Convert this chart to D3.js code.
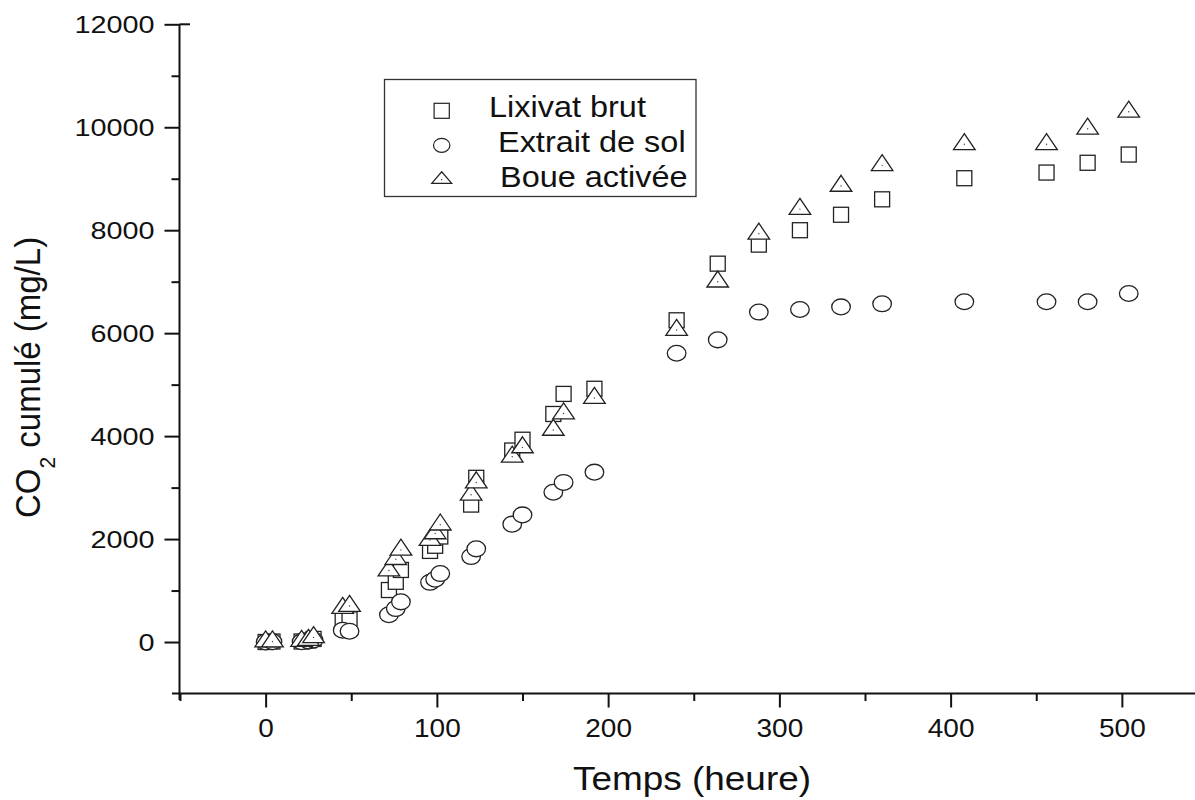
<!DOCTYPE html>
<html>
<head>
<meta charset="utf-8">
<script src="https://cdn.jsdelivr.net/npm/d3@7/dist/d3.min.js"></script>
<style>
	html, body { margin: 0; padding: 0; background: #fff; }
	#outer { width: 1195px; height: 800px; }
</style>
</head>
<body>
<div id="outer"></div>
<script>

////////// DATA //////////
const hours = [0, 4, 21, 25, 28, 45, 49, 72, 76, 79, 96, 99, 102, 120, 123, 144, 150, 168, 174, 192, 240, 264, 288, 312, 336, 360, 408, 456, 480, 504];
const lixivatBrut = [0, 10, 10, 30, 60, 420, 440, 1010, 1170, 1400, 1770, 1870, 2050, 2670, 3190, 3720, 3930, 4430, 4820, 4920, 6250, 7350, 7720, 8000, 8300, 8600, 9010, 9120, 9310, 9470];
const extraitDeSol = [0, 5, 5, 20, 40, 230, 210, 530, 650, 780, 1160, 1220, 1330, 1660, 1810, 2290, 2470, 2910, 3100, 3300, 5610, 5870, 6410, 6460, 6510, 6570, 6610, 6610, 6610, 6770];
const boueActivee = [10, 10, 20, 40, 90, 660, 700, 1390, 1610, 1790, 1980, 2110, 2280, 2860, 3100, 3600, 3780, 4120, 4440, 4740, 6060, 7000, 7930, 8410, 8860, 9260, 9670, 9670, 9970, 10300];
const seriesNames = ['Lixivat brut', 'Extrait de sol', 'Boue activée'];
const xTicks = [0, 100, 200, 300, 400, 500];
const xMinorTicks = [-50, 50, 150, 250, 350, 450];
const yTicks = [0, 2000, 4000, 6000, 8000, 10000, 12000];
const yMinorTicks = [1000, 3000, 5000, 7000, 9000, 11000];

function drawChart() {

	// ********************************* DEFINE ********************************* //
	const width = 1195, height = 800;
	const font = '"Liberation Sans", Arial, Helvetica, sans-serif';
	const ink = '#111';
	const markStroke = '#222';
	const axisWeight = 2;

	const x = d3.scaleLinear().domain([-50, 550]).range([180, 1207.5]);
	const y = d3.scaleLinear().domain([-1000, 12000]).range([693.5, 24.3]);
	const axisX = 179.5, axisY = 693.5;

	const svg = d3.select('#outer').append('svg')
		.attr('width', width)
		.attr('height', height)
		.style('display', 'block')
		.style('font-family', font);

	// ********************************* AXES ********************************* //
	const xAxisG = svg.append('g').attr('transform', `translate(0, ${axisY})`);
	xAxisG.call(d3.axisBottom(x).tickValues(xTicks).tickFormat(d3.format('d')).tickSize(14).tickPadding(11.7).tickSizeOuter(0));
	xAxisG.append('g').call(d3.axisBottom(x).tickValues(xMinorTicks).tickSize(7.5).tickFormat('').tickSizeOuter(0));
	xAxisG.selectAll('.domain').remove();
	xAxisG.selectAll('line').attr('stroke', ink).attr('stroke-width', axisWeight);
	xAxisG.selectAll('text')
		.attr('fill', ink)
		.style('font-size', '25px')
		.style('font-family', font)
		.attr('transform', 'scale(1.12,1)');

	const yAxisG = svg.append('g').attr('transform', `translate(${axisX}, 0)`);
	yAxisG.call(d3.axisLeft(y).tickValues(yTicks).tickFormat(d3.format('d')).tickSize(15).tickPadding(10).tickSizeOuter(0));
	yAxisG.append('g').call(d3.axisLeft(y).tickValues(yMinorTicks).tickSize(8).tickFormat('').tickSizeOuter(0));
	yAxisG.selectAll('.domain').remove();
	yAxisG.selectAll('line').attr('stroke', ink).attr('stroke-width', axisWeight);
	yAxisG.selectAll('text')
		.attr('fill', ink)
		.style('font-size', '24px')
		.style('font-family', font)
		.attr('x', -25 / 1.2)
		.attr('dy', '0.36em')
		.attr('transform', 'scale(1.2,1)');

	// axis lines, crossing a little like the original
	svg.append('line')
		.attr('x1', 172).attr('x2', width)
		.attr('y1', axisY).attr('y2', axisY)
		.attr('stroke', ink).attr('stroke-width', axisWeight);
	svg.append('line')
		.attr('x1', axisX).attr('x2', axisX)
		.attr('y1', y(12000)).attr('y2', 700)
		.attr('stroke', ink).attr('stroke-width', axisWeight);
	svg.append('line')
		.attr('x1', axisX).attr('x2', 190)
		.attr('y1', y(12000)).attr('y2', y(12000))
		.attr('stroke', ink).attr('stroke-width', axisWeight);

	// ********************************* TITLES ********************************* //
	svg.append('text')
		.attr('transform', 'translate(692, 790) scale(1.12,1)')
		.attr('text-anchor', 'middle')
		.attr('fill', ink)
		.style('font-size', '33px')
		.text('Temps (heure)');

	const yTitle = svg.append('text')
		.attr('transform', 'translate(40, 518) scale(1.08,1) rotate(-90)')
		.attr('fill', ink)
		.style('font-size', '33px');
	yTitle.append('tspan').text('CO');
	yTitle.append('tspan').attr('dy', 14).style('font-size', '21px').text('2');
	yTitle.append('tspan').attr('dy', -14).text(' cumulé (mg/L)');

	// ********************************* MARKS ********************************* //
	const plot = svg.append('g').attr('class', 'marks');
	const sqSize = 15;
	const triPath = (cx, cy, w, h) => {
		const p = d3.path();
		p.moveTo(cx, cy - h * 2 / 3);
		p.lineTo(cx + w / 2, cy + h / 3);
		p.lineTo(cx - w / 2, cy + h / 3);
		p.closePath();
		return p.toString();
	};

	plot.append('g').selectAll('rect')
		.data(hours.map((h, i) => [h, lixivatBrut[i]]))
		.join('rect')
		.attr('x', d => x(d[0]) - sqSize / 2)
		.attr('y', d => y(d[1]) - sqSize / 2)
		.attr('width', sqSize)
		.attr('height', sqSize)
		.attr('fill', '#fff')
		.attr('stroke', markStroke)
		.attr('stroke-width', 1.3);

	plot.append('g').selectAll('ellipse')
		.data(hours.map((h, i) => [h, extraitDeSol[i]]))
		.join('ellipse')
		.attr('cx', d => x(d[0]))
		.attr('cy', d => y(d[1]))
		.attr('rx', 9.3)
		.attr('ry', 7.9)
		.attr('fill', '#fff')
		.attr('stroke', markStroke)
		.attr('stroke-width', 1.3);

	const triG = plot.append('g').selectAll('g')
		.data(hours.map((h, i) => [h, boueActivee[i]]))
		.join('g');
	triG.append('path')
		.attr('d', d => triPath(x(d[0]), y(d[1]), 21.6, 16))
		.attr('fill', '#fff')
		.attr('stroke', markStroke)
		.attr('stroke-width', 1.3)
		.attr('stroke-linejoin', 'miter');
	triG.append('circle')
		.attr('cx', d => x(d[0]))
		.attr('cy', d => y(d[1]))
		.attr('r', 0.7)
		.attr('fill', '#444');

	// ********************************* LEGEND ********************************* //
	const legend = svg.append('g').attr('class', 'legend');
	legend.append('rect')
		.attr('x', 384.5).attr('y', 79.5)
		.attr('width', 311.5).attr('height', 117)
		.attr('fill', '#fff')
		.attr('stroke', '#333')
		.attr('stroke-width', 1.3);

	const legendRows = [
		{ name: seriesNames[0], cy: 110.8, tx: 489, base: 116.7 },
		{ name: seriesNames[1], cy: 145.3, tx: 498, base: 151.7 },
		{ name: seriesNames[2], cy: 179.5, tx: 500, base: 186.7 }
	];
	const lx = 441.7;
	legend.append('rect')
		.attr('x', lx - 7.6).attr('y', legendRows[0].cy - 7.5)
		.attr('width', 15.2).attr('height', 15)
		.attr('fill', '#fff').attr('stroke', markStroke).attr('stroke-width', 1.2);
	legend.append('ellipse')
		.attr('cx', lx).attr('cy', legendRows[1].cy)
		.attr('rx', 8.2).attr('ry', 7)
		.attr('fill', '#fff').attr('stroke', markStroke).attr('stroke-width', 1.2);
	legend.append('path')
		.attr('d', triPath(lx, legendRows[2].cy, 20, 11.6))
		.attr('fill', '#fff').attr('stroke', markStroke).attr('stroke-width', 1.2);
	legend.append('circle')
		.attr('cx', lx).attr('cy', legendRows[2].cy)
		.attr('r', 0.7).attr('fill', '#444');

	legend.selectAll('text.label')
		.data(legendRows)
		.join('text')
		.attr('class', 'label')
		.attr('transform', d => `translate(${d.tx}, ${d.base}) scale(1.12,1)`)
		.attr('fill', ink)
		.style('font-size', '29px')
		.text(d => d.name);
}

drawChart();
</script>
</body>
</html>
